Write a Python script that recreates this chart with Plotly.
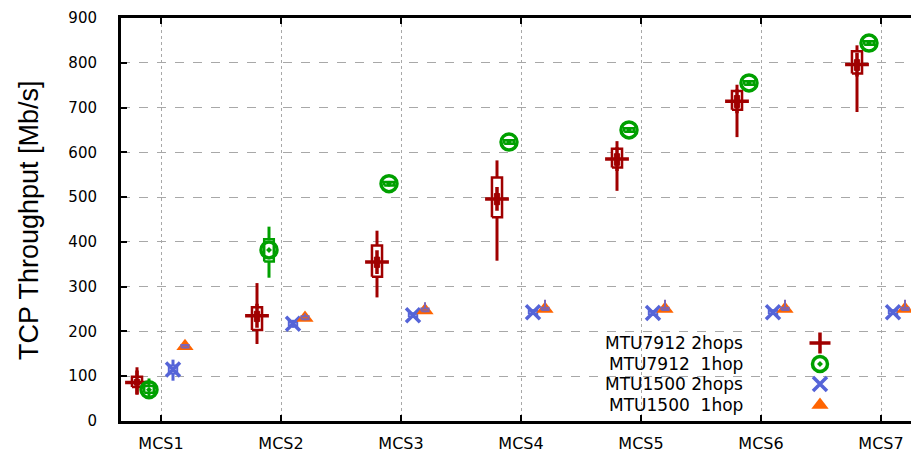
import plotly.graph_objects as go

# Categories (modulation and coding schemes)
categories = ["MCS1", "MCS2", "MCS3", "MCS4", "MCS5", "MCS6", "MCS7"]
y_ticks = [0, 100, 200, 300, 400, 500, 600, 700, 800, 900]

# MTU7912, 2 hops
r_med = [86, 235, 355, 496, 585, 714, 796]
r_q1 = [76, 203, 322, 455, 566, 695, 776]
r_q3 = [99, 254, 392, 544, 608, 737, 826]
r_lo = [59, 172, 276, 358, 514, 634, 690]
r_hi = [120, 308, 425, 582, 625, 751, 839]
r_ci_lo = [80, 222, 343, 483, 571, 700, 783]
r_ci_hi = [93, 245, 366, 508, 597, 727, 807]

# MTU7912, 1 hop
g_med = [70, 382, 530, 623, 650, 755, 844]
g_q1 = [63, 356, 526, 619, 646, 751, 840]
g_q3 = [78, 406, 534, 627, 654, 759, 848]
g_lo = [50, 320, 524, 617, 644, 749, 838]
g_hi = [95, 434, 536, 629, 656, 761, 850]

# MTU1500, 2 hops
b_med = [115, 217, 236, 243, 241, 243, 243]
b_q1 = [106, 212, 232, 239, 237, 239, 239]
b_q3 = [124, 222, 240, 247, 245, 247, 247]
b_lo = [90, 208, 230, 237, 235, 237, 237]
b_hi = [137, 226, 242, 249, 247, 249, 249]

# MTU1500, 1 hop
o_med = [167, 230, 247, 250, 250, 250, 250]
o_q1 = [164, 227, 245, 248, 248, 248, 248]
o_q3 = [170, 234, 251, 253, 253, 253, 253]
o_lo = [162, 225, 243, 246, 246, 246, 246]
o_hi = [172, 240, 265, 271, 271, 271, 271]

RED = "#a00000"
GREEN = "#00a000"
BLUE = "#5564d8"
ORANGE = "#ff6400"
PURPLE = "#7c64b4"

fig = go.Figure()


def positions(offset):
    return [i + 1 + offset for i in range(len(categories))]


def whiskers(xs, lo, hi, color, width):
    px, py = [], []
    for x, a, b in zip(xs, lo, hi):
        px += [x, x, None]
        py += [a, b, None]
    fig.add_trace(go.Scatter(x=px, y=py, mode="lines",
                             line=dict(color=color, width=width),
                             hoverinfo="skip", showlegend=False))


def boxes(xs, lo, hi, half, line_color, fill_color, width):
    px, py = [], []
    for x, a, b in zip(xs, lo, hi):
        px += [x - half, x + half, x + half, x - half, x - half, None]
        py += [a, a, b, b, a, None]
    fig.add_trace(go.Scatter(x=px, y=py, mode="lines", fill="toself",
                             fillcolor=fill_color,
                             line=dict(color=line_color, width=width),
                             hoverinfo="skip", showlegend=False))


def markers(xs, ys, symbol, size, color, lw, name):
    fig.add_trace(go.Scatter(x=xs, y=ys, mode="markers", name=name,
                             marker=dict(symbol=symbol, size=size, color=color,
                                         line=dict(color=color, width=lw)),
                             showlegend=False))


xr = positions(-0.2)
xg = positions(-0.1)
xb = positions(0.1)
xo = positions(0.2)

# MTU7912 2hops: whiskers, quartile box, filled inner band, median marker
whiskers(xr, r_lo, r_hi, RED, 3)
boxes(xr, r_q1, r_q3, 0.042, RED, "white", 2.5)
boxes(xr, r_ci_lo, r_ci_hi, 0.022, RED, RED, 1)
markers(xr, r_med, "cross-thin", 17, RED, 3.5, "MTU7912 2hops")

# MTU7912 1hop
whiskers(xg, g_lo, g_hi, GREEN, 3)
boxes(xg, g_q1, g_q3, 0.04, GREEN, "white", 2.5)
markers(xg, g_med, "circle-open-dot", 16, GREEN, 3.5, "MTU7912 1hop")

# MTU1500 2hops
whiskers(xb, b_lo, b_hi, BLUE, 3)
boxes(xb, b_q1, b_q3, 0.035, BLUE, "white", 2)
markers(xb, b_med, "x-thin", 14, BLUE, 3.5, "MTU1500 2hops")

# MTU1500 1hop
markers(xo, o_med, "triangle-up", 15, ORANGE, 0, "MTU1500 1hop")
whiskers(xo, o_lo, o_hi, PURPLE, 2)
boxes(xo, o_q1, o_q3, 0.03, PURPLE, ORANGE, 2)

# Key symbols on an overlay axis spanning [0, 1]
key_y = [0.1935, 0.1414, 0.0918, 0.0397]
key_symbols = ["cross-thin", "circle-open-dot", "x-thin", "triangle-up"]
key_colors = [RED, GREEN, BLUE, ORANGE]
key_sizes = [15, 15, 14, 15]
key_lw = [3.5, 3.5, 3.5, 0]
key_labels = ["MTU7912 2hops", "MTU7912\u00a0 1hop", "MTU1500 2hops", "MTU1500\u00a0 1hop"]
for yk, s, c, sz, lw in zip(key_y, key_symbols, key_colors, key_sizes, key_lw):
    fig.add_trace(go.Scatter(x=[0.8848], y=[yk], xaxis="x2", yaxis="y2",
                             mode="markers", hoverinfo="skip", showlegend=False,
                             marker=dict(symbol=s, size=sz, color=c,
                                         line=dict(color=c, width=lw))))

annotations = []
for yk, label in zip(key_y, key_labels):
    annotations.append(dict(x=0.79, y=yk, xref="paper", yref="paper",
                            text=label, showarrow=False, xanchor="right",
                            yanchor="middle",
                            font=dict(family="DejaVu Sans", size=17, color="black")))

annotations.append(dict(x=-0.117, y=0.4975, xref="paper", yref="paper",
                        text="TCP Throughput [Mb/s]", textangle=-90,
                        showarrow=False, xanchor="center", yanchor="middle",
                        font=dict(family="Liberation Sans", size=27, color="black")))

fig.update_layout(
    width=911, height=455,
    margin=dict(l=121, r=0, t=18, b=34, autoexpand=False),
    paper_bgcolor="white", plot_bgcolor="white",
    showlegend=False,
    annotations=annotations,
    xaxis=dict(
        range=[0.6667, 7.25], automargin=False,
        tickvals=[1, 2, 3, 4, 5, 6, 7], ticktext=categories,
        ticks="inside", ticklen=6, tickwidth=2, tickcolor="black",
        showline=True, linewidth=3, linecolor="black", mirror="ticks",
        showgrid=True, gridcolor="#a8a8a8", gridwidth=1, griddash="dot",
        zeroline=False, ticklabelstandoff=6,
        tickfont=dict(family="DejaVu Sans", size=16, color="black"),
    ),
    yaxis=dict(
        range=[0, 900], tickvals=y_ticks, automargin=False,
        ticks="inside", ticklen=6, tickwidth=2, tickcolor="black",
        showline=True, linewidth=3, linecolor="black",
        showgrid=True, gridcolor="#a8a8a8", gridwidth=1, griddash="dash",
        zeroline=False, ticklabelstandoff=18,
        tickfont=dict(family="DejaVu Sans", size=15, color="black"),
    ),
    xaxis2=dict(range=[0, 1], overlaying="x", visible=False, fixedrange=True),
    yaxis2=dict(range=[0, 1], overlaying="y", visible=False, fixedrange=True),
)

fig.write_html("out.html")
